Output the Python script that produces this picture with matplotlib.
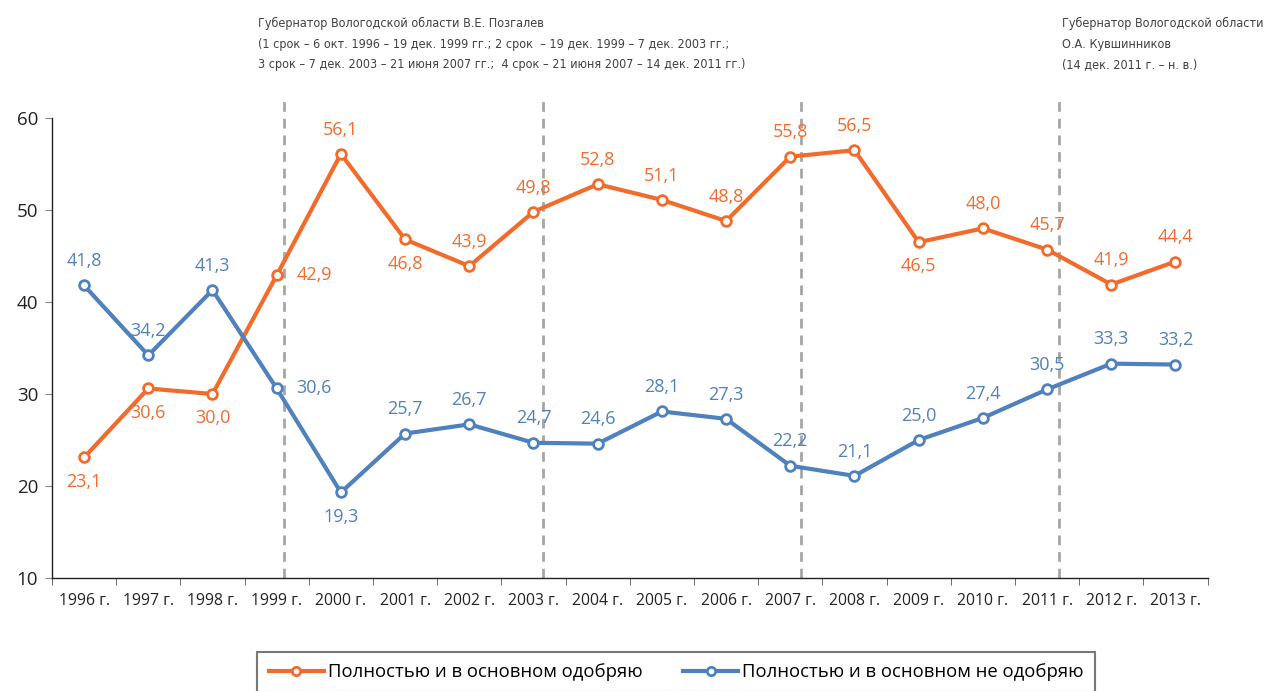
import matplotlib
matplotlib.use("Agg")
import matplotlib.pyplot as plt
from matplotlib.lines import Line2D
from matplotlib import font_manager as fm

years = ["1996 г.", "1997 г.", "1998 г.", "1999 г.", "2000 г.", "2001 г.", "2002 г.",
         "2003 г.", "2004 г.", "2005 г.", "2006 г.", "2007 г.", "2008 г.", "2009 г.",
         "2010 г.", "2011 г.", "2012 г.", "2013 г."]
approve = [23.1, 30.6, 30.0, 42.9, 56.1, 46.8, 43.9, 49.8, 52.8, 51.1, 48.8, 55.8, 56.5,
           46.5, 48.0, 45.7, 41.9, 44.4]
disapprove = [41.8, 34.2, 41.3, 30.6, 19.3, 25.7, 26.7, 24.7, 24.6, 28.1, 27.3, 22.2, 21.1,
              25.0, 27.4, 30.5, 33.3, 33.2]
# label placement: a=above, b=below, r=right
approve_pos = ["b", "b", "b", "r", "a", "b", "a", "a", "a", "a", "a", "a", "a", "b", "a", "a", "a", "a"]
disapprove_pos = ["a", "a", "a", "r", "b", "a", "a", "a", "a", "a", "a", "a", "a", "a", "a", "a", "a", "a"]
term_lines = [3.12, 7.15, 11.17, 15.19]
series_names = ["Полностью и в основном одобряю", "Полностью и в основном не одобряю"]

ORANGE = "#F26B2B"
BLUE = "#4F81BD"

names = {f.name for f in fm.fontManager.ttflist}
cond_paths = [f.fname for f in fm.fontManager.ttflist if f.fname.endswith("DejaVuSansCondensed.ttf")]
if cond_paths:
    narrow_kw = dict(fontproperties=fm.FontProperties(fname=cond_paths[0], size=9))
elif "Liberation Sans Narrow" in names:
    narrow_kw = dict(family=["Liberation Sans Narrow", "DejaVu Sans"], fontsize=10)
else:
    narrow_kw = dict(family=["DejaVu Sans"], fontstretch="condensed", fontsize=9)

plt.rcParams["font.family"] = ["Open Sans", "DejaVu Sans"]

fig = plt.figure(figsize=(12.68, 6.91), dpi=100)
ax = fig.add_axes([52 / 1268, 1 - 578 / 691, (1207.6 - 52) / 1268, (578 - 118) / 691])

x = list(range(len(years)))
ax.plot(x, approve, color=ORANGE, lw=3, marker="o", ms=7, mfc="white", mec=ORANGE, mew=2,
        zorder=3)
ax.plot(x, disapprove, color=BLUE, lw=3, marker="o", ms=7, mfc="white", mec=BLUE, mew=2,
        zorder=3)

def label(vals, pos, color):
    for i, (v, p) in enumerate(zip(vals, pos)):
        s = f"{v:.1f}".replace(".", ",")
        if p == "a":
            ax.annotate(s, (i, v), xytext=(0, 11), textcoords="offset points", ha="center",
                        va="bottom", color=color, fontsize=13)
        elif p == "b":
            ax.annotate(s, (i, v), xytext=(0, -11), textcoords="offset points", ha="center",
                        va="top", color=color, fontsize=13)
        else:
            ax.annotate(s, (i, v), xytext=(14, 0), textcoords="offset points", ha="left",
                        va="center", color=color, fontsize=13)

label(approve, approve_pos, ORANGE)
label(disapprove, disapprove_pos, BLUE)

for t in term_lines:
    ax.plot([t, t], [10, 62.3], color="#A6A6A6", lw=2, ls=(0, (3.5, 2.5)), clip_on=False,
            zorder=1)

ax.set_xlim(-0.5, len(years) - 0.5)
ax.set_ylim(10, 60)
ax.set_yticks([10, 20, 30, 40, 50, 60])
ax.set_xticks(x)
ax.set_xticklabels(years, fontsize=11.3, color="#222222")
ax.set_xticks([i - 0.5 for i in range(len(years) + 1)], minor=True)
ax.tick_params(axis="x", which="major", length=0, pad=11)
ax.tick_params(axis="x", which="minor", length=5, color="#555555")
ax.tick_params(axis="y", labelsize=13.5, colors="#222222", length=5, pad=5)
ax.tick_params(axis="y", color="#888888")
for sp in ["top", "right"]:
    ax.spines[sp].set_visible(False)
for sp in ["left", "bottom"]:
    ax.spines[sp].set_color("#222222")
    ax.spines[sp].set_linewidth(1)

txt_kw = dict(color="#404040", va="center", ha="left", linespacing=1.75)
fig.text(258 / 1268, 1 - 44 / 691,
         "Губернатор Вологодской области В.Е. Позгалев\n"
         "(1 срок – 6 окт. 1996 – 19 дек. 1999 гг.; 2 срок  – 19 дек. 1999 – 7 дек. 2003 гг.;\n"
         "3 срок – 7 дек. 2003 – 21 июня 2007 гг.;  4 срок – 21 июня 2007 – 14 дек. 2011 гг.)",
         **narrow_kw, **txt_kw)
fig.text(1062 / 1268, 1 - 44 / 691,
         "Губернатор Вологодской области\nО.А. Кувшинников\n(14 дек. 2011 г. – н. в.)",
         **narrow_kw, **txt_kw)

handles = [Line2D([], [], color=ORANGE, lw=3, marker="o", ms=6, mfc="white", mec=ORANGE, mew=2),
           Line2D([], [], color=BLUE, lw=3, marker="o", ms=6, mfc="white", mec=BLUE, mew=2)]
leg = fig.legend(handles, series_names, loc="upper center", bbox_to_anchor=(676 / 1268, 1 - 643 / 691),
                 ncol=2, frameon=True, fancybox=False, fontsize=13.3, handlelength=3.0,
                 handletextpad=0.2, columnspacing=2.2, borderpad=0.6)
leg.get_frame().set_edgecolor("#555555")
leg.get_frame().set_linewidth(1.5)

fig.savefig("out.png", dpi=100)
